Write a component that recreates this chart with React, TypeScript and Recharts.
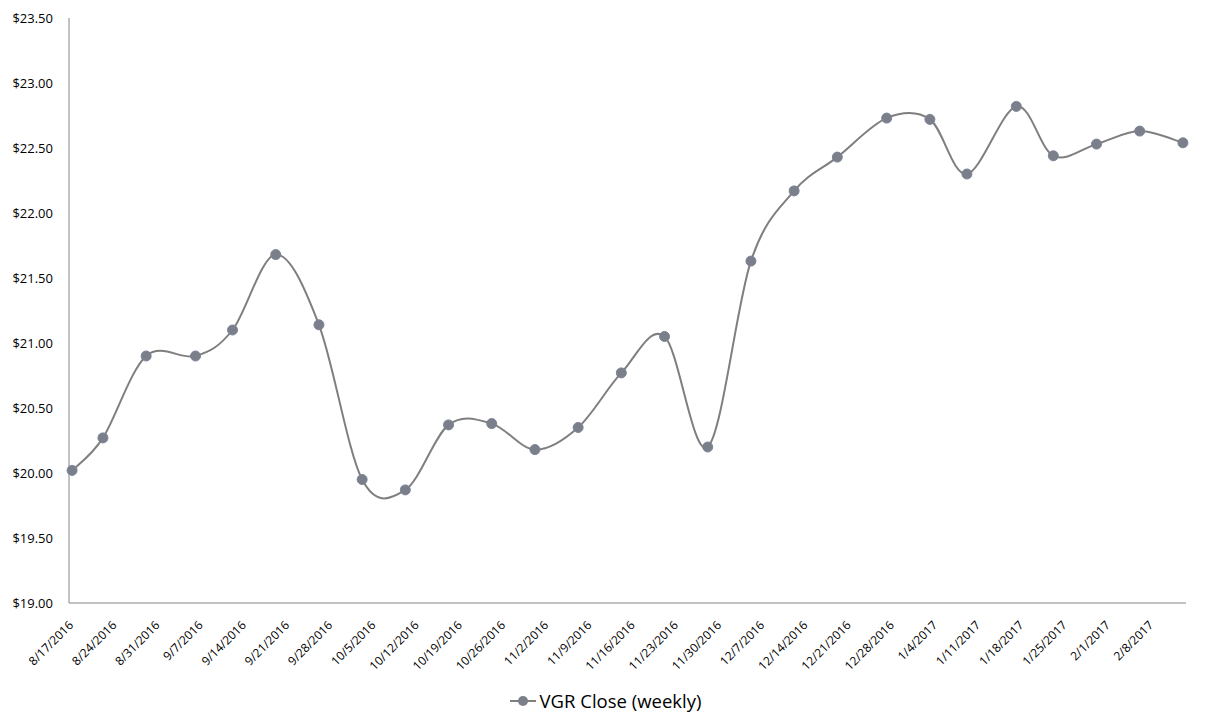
import React from "react";
import { LineChart, Line, XAxis, YAxis, Legend } from "recharts";

// weekly closes (dates as on the source sheet)
const closeDates = [
  "8/17/2016", "8/22/2016", "8/29/2016", "9/6/2016", "9/12/2016", "9/19/2016", "9/26/2016",
  "10/3/2016", "10/10/2016", "10/17/2016", "10/24/2016", "10/31/2016", "11/7/2016", "11/14/2016",
  "11/21/2016", "11/28/2016", "12/5/2016", "12/12/2016", "12/19/2016", "12/27/2016", "1/3/2017",
  "1/9/2017", "1/17/2017", "1/23/2017", "1/30/2017", "2/6/2017", "2/13/2017",
];
const closeValues = [
  20.02, 20.27, 20.9, 20.9, 21.1, 21.68, 21.14,
  19.95, 19.87, 20.37, 20.38, 20.18, 20.35, 20.77,
  21.05, 20.2, 21.63, 22.17, 22.43, 22.73, 22.72,
  22.3, 22.82, 22.44, 22.53, 22.63, 22.54,
];
const tickLabels = [
  "8/17/2016", "8/24/2016", "8/31/2016", "9/7/2016", "9/14/2016", "9/21/2016", "9/28/2016",
  "10/5/2016", "10/12/2016", "10/19/2016", "10/26/2016", "11/2/2016", "11/9/2016", "11/16/2016",
  "11/23/2016", "11/30/2016", "12/7/2016", "12/14/2016", "12/21/2016", "12/28/2016", "1/4/2017",
  "1/11/2017", "1/18/2017", "1/25/2017", "2/1/2017", "2/8/2017",
];
const yTicks = [19, 19.5, 20, 20.5, 21, 21.5, 22, 22.5, 23, 23.5];
const seriesName = "VGR Close (weekly)";

const FONT = "'Open Sans', sans-serif";
const LINE = "#7f7f7f";
const DOT = "#7a7f8a";

const toDay = (s: string) => {
  const [m, d, y] = s.split("/").map(Number);
  return Date.UTC(y, m - 1, d) / 86400000;
};

const data = closeDates.map((d, i) => ({ t: toDay(d), close: closeValues[i] }));
const xTicks = tickLabels.map(toDay);
const labelByDay: Record<number, string> = {};
tickLabels.forEach((l) => (labelByDay[toDay(l)] = l));

// excel style smoothing (uniform catmull-rom)
const excelSmooth = (context: any) => {
  let pts: number[][] = [];
  return {
    areaStart() {},
    areaEnd() {},
    lineStart() {
      pts = [];
    },
    point(x: number, y: number) {
      pts.push([+x, +y]);
    },
    lineEnd() {
      if (!pts.length) return;
      context.moveTo(pts[0][0], pts[0][1]);
      for (let i = 0; i < pts.length - 1; i++) {
        const p0 = pts[i - 1] || pts[i];
        const p1 = pts[i];
        const p2 = pts[i + 1];
        const p3 = pts[i + 2] || p2;
        context.bezierCurveTo(
          p1[0] + (p2[0] - p0[0]) / 6,
          p1[1] + (p2[1] - p0[1]) / 6,
          p2[0] - (p3[0] - p1[0]) / 6,
          p2[1] - (p3[1] - p1[1]) / 6,
          p2[0],
          p2[1]
        );
      }
    },
  };
};

const DateTick = (props: any) => {
  const { x, y, payload } = props;
  const ax = x - 1;
  const ay = y + 20;
  return (
    <text
      x={ax}
      y={ay}
      dy="0.35em"
      textAnchor="end"
      transform={`rotate(-45, ${ax}, ${ay})`}
      fontFamily={FONT}
      fontSize={12}
      fill="#000"
    >
      {labelByDay[payload.value]}
    </text>
  );
};

const LegendContent = () => (
  <div style={{ display: "flex", justifyContent: "center", alignItems: "center" }}>
    <svg width={26} height={12} style={{ marginRight: 4 }}>
      <line x1={0} y1={6} x2={26} y2={6} stroke={LINE} strokeWidth={2} />
      <circle cx={13} cy={6} r={5} fill={DOT} />
    </svg>
    <span style={{ fontFamily: FONT, fontSize: 18.5, color: "#000" }}>{seriesName}</span>
  </div>
);

export default function App() {
  const first = data[0].t;
  const last = data[data.length - 1].t;
  return (
    <div style={{ position: "absolute", left: 0, top: 0, background: "#fff" }}>
      <LineChart width={1211} height={727} data={data} margin={{ top: 18, right: 25, bottom: 0, left: 0 }}>
        <XAxis
          dataKey="t"
          type="number"
          domain={[first - 0.5, last + 0.5]}
          ticks={xTicks}
          interval={0}
          height={124}
          tickLine={false}
          tickSize={0}
          tickMargin={0}
          stroke="#868686"
          tick={<DateTick />}
        />
        <YAxis
          domain={[19, 23.5]}
          ticks={yTicks}
          interval={0}
          width={69}
          tickLine={false}
          tickSize={0}
          tickMargin={16}
          stroke="#868686"
          tick={{ fontFamily: FONT, fontSize: 13, fill: "#000" }}
          tickFormatter={(v) => `$${Number(v).toFixed(2)}`}
        />
        <Legend
          layout="horizontal"
          verticalAlign="middle"
          align="center"
          content={<LegendContent />}
          wrapperStyle={{ top: 688, left: 0, width: 1211 }}
        />
        <Line
          dataKey="close"
          name={seriesName}
          type={excelSmooth as any}
          stroke={LINE}
          strokeWidth={2}
          dot={{ r: 5, fill: DOT, stroke: "#7b8597", strokeWidth: 1 }}
          activeDot={false}
          isAnimationActive={false}
        />
      </LineChart>
    </div>
  );
}
